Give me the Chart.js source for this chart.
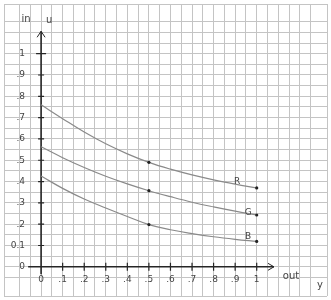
<!DOCTYPE html>
<html>
<head>
<meta charset="utf-8">
<script src="https://cdn.jsdelivr.net/npm/chart.js@4/dist/chart.umd.min.js"></script>
<style>
  html, body { margin: 0; padding: 0; background: #fff; }
  #wrap { width: 331px; height: 300px; }
</style>
</head>
<body>
<div id="wrap"><canvas id="chart" width="331" height="300"></canvas></div>
<script>
// values, one per 0.1 step of "out y"
const outY = [0, 0.1, 0.2, 0.3, 0.4, 0.5, 0.6, 0.7, 0.8, 0.9, 1];
const curveR = [0.76, 0.695, 0.632, 0.577, 0.53, 0.49, 0.458, 0.431, 0.408, 0.388, 0.37];
const curveG = [0.563, 0.512, 0.466, 0.425, 0.389, 0.357, 0.329, 0.303, 0.281, 0.261, 0.243];
const curveB = [0.426, 0.368, 0.318, 0.276, 0.236, 0.198, 0.174, 0.156, 0.141, 0.129, 0.119];
const curveNames = ["R", "G", "B"];

// tick labels as written on the axes
const axisTicks = [0, 0.1, 0.2, 0.3, 0.4, 0.5, 0.6, 0.7, 0.8, 0.9, 1];
const xTickLabels = ["0", ".1", ".2", ".3", ".4", ".5", ".6", ".7", ".8", ".9", "1"];
const yTickLabels = ["0", "0.1", ".2", ".3", ".4", ".5", ".6", ".7", ".8", ".9", "1"];
const xAxisTitle = ["out", "y"];
const yAxisTitle = ["in", "u"];

const penColor = "#262626";
const pencil = "#444";
const handFont = "9px 'DejaVu Sans', sans-serif";

// small offsets (px) of the curve names from their 0.9 point
const nameOffsets = [[2, -2], [13, 1], [13, -3]];

// axes, arrows, ticks and handwritten text
const handAxes = {
  id: "handAxes",
  beforeDatasetsDraw(chart) {
    const { ctx, scales: { x, y } } = chart;
    const x0 = x.getPixelForValue(0);
    const y0 = y.getPixelForValue(0);
    const yTop = y.getPixelForValue(1.105);
    const xEnd = x.getPixelForValue(1.08);
    ctx.save();
    ctx.strokeStyle = penColor;
    ctx.lineWidth = 1.6;
    ctx.beginPath();
    ctx.moveTo(x0, y.getPixelForValue(-0.035));
    ctx.lineTo(x0, yTop);
    ctx.moveTo(x.getPixelForValue(-0.06), y0);
    ctx.lineTo(xEnd, y0);
    ctx.stroke();

    // arrow heads
    ctx.lineWidth = 1;
    ctx.beginPath();
    ctx.moveTo(x0 - 4, yTop + 6);
    ctx.lineTo(x0, yTop);
    ctx.lineTo(x0 + 4, yTop + 6);
    ctx.moveTo(xEnd - 6, y0 - 3.5);
    ctx.lineTo(xEnd, y0);
    ctx.lineTo(xEnd - 6, y0 + 3.5);
    ctx.stroke();

    // tick marks
    ctx.lineWidth = 1.2;
    ctx.beginPath();
    axisTicks.forEach(v => {
      if (v === 0) return;
      const px = x.getPixelForValue(v);
      const py = y.getPixelForValue(v);
      ctx.moveTo(px, y0 - 4);
      ctx.lineTo(px, y0 + 4);
      const half = v === 1 ? 5 : 3;
      ctx.moveTo(x0 - half, py);
      ctx.lineTo(x0 + half, py);
    });
    ctx.stroke();
    ctx.restore();
  },
  afterDatasetsDraw(chart) {
    const { ctx, scales: { x, y } } = chart;
    const x0 = x.getPixelForValue(0);
    const y0 = y.getPixelForValue(0);
    ctx.save();
    ctx.fillStyle = pencil;
    ctx.font = handFont;
    ctx.textBaseline = "middle";

    ctx.textAlign = "center";
    axisTicks.forEach((v, i) => {
      ctx.fillText(xTickLabels[i], x.getPixelForValue(v), y0 + 13);
    });
    ctx.textAlign = "right";
    axisTicks.forEach((v, i) => {
      ctx.fillText(yTickLabels[i], x0 - 16, y.getPixelForValue(v));
    });

    // axis titles
    ctx.font = "10px 'DejaVu Sans', sans-serif";
    ctx.textAlign = "center";
    const yTitleY = y.getPixelForValue(1.16);
    ctx.fillText(yAxisTitle[0], x0 - 15, yTitleY);
    ctx.fillText(yAxisTitle[1], x0 + 8, yTitleY + 1);
    const xEnd = x.getPixelForValue(1.08);
    ctx.fillText(xAxisTitle[0], xEnd + 17, y0 + 10);
    ctx.fillText(xAxisTitle[1], xEnd + 46, y0 + 19);

    // curve names near x = 0.9
    ctx.font = handFont;
    chart.data.datasets.forEach((ds, i) => {
      const pt = chart.getDatasetMeta(i).data[9];
      ctx.fillText(curveNames[i], pt.x + nameOffsets[i][0], pt.y + nameOffsets[i][1]);
    });
    ctx.restore();
  }
};

const toPoints = vals => outY.map((v, i) => ({ x: v, y: vals[i] }));
const markedPoint = c => (c.dataIndex === 5 || c.dataIndex === 10) ? 1.6 : 0;

const curveStyle = {
  borderColor: "#8a8a8a",
  borderWidth: 1.2,
  pointRadius: markedPoint,
  pointBackgroundColor: "#222",
  pointBorderWidth: 0,
  tension: 0.4,
  fill: false
};

document.addEventListener("DOMContentLoaded", () => {
  const ctx = document.getElementById("chart").getContext("2d");

  new Chart(ctx, {
    type: "line",
    data: {
      datasets: [
        { label: curveNames[0], data: toPoints(curveR), ...curveStyle },
        { label: curveNames[1], data: toPoints(curveG), ...curveStyle },
        { label: curveNames[2], data: toPoints(curveB), ...curveStyle }
      ]
    },
    options: {
      responsive: false,
      animation: false,
      events: [],
      layout: { padding: 0 },
      plugins: {
        legend: { display: false },
        tooltip: { enabled: false }
      },
      scales: {
        // the whole canvas is graph paper, 0.05 per square
        x: {
          type: "linear",
          min: -0.172,
          max: 1.326,
          ticks: { display: false, stepSize: 0.05 },
          grid: { color: "#c4c4c4", lineWidth: 1, drawTicks: false },
          border: { display: false }
        },
        y: {
          type: "linear",
          min: -0.137,
          max: 1.233,
          ticks: { display: false, stepSize: 0.05 },
          grid: { color: "#c4c4c4", lineWidth: 1, drawTicks: false },
          border: { display: false }
        }
      }
    },
    plugins: [handAxes]
  });
});
</script>
</body>
</html>
